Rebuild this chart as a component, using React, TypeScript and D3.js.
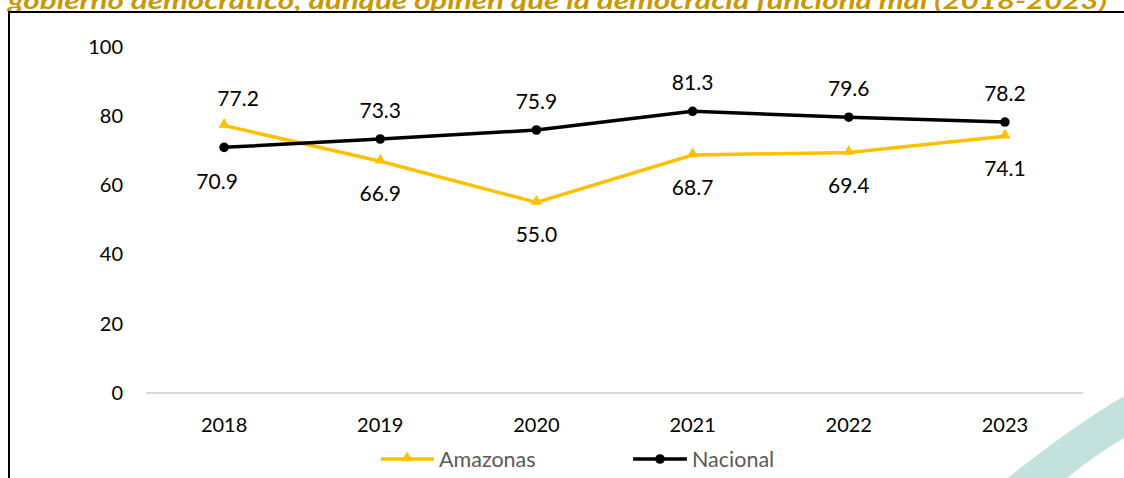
import React from "react";
import * as d3 from "d3";

const years = ["2018", "2019", "2020", "2021", "2022", "2023"];
const amazonas = [77.2, 66.9, 55.0, 68.7, 69.4, 74.1];
const nacional = [70.9, 73.3, 75.9, 81.3, 79.6, 78.2];
const yTicks = [0, 20, 40, 60, 80, 100];
const titleText = "gobierno democrático, aunque opinen que la democracia funciona mal (2018-2023)";

const W = 1124, H = 478;
const FONT = "Lato, 'Open Sans', sans-serif";
const YELLOW = "#FFC000";

export default function App() {
  const x = d3.scaleBand<string>().domain(years).range([146, 1083]);
  const y = d3.scaleLinear().domain([0, 100]).range([393, 46.5]);
  const cx = (yr: string) => (x(yr) as number) + x.bandwidth() / 2;

  const line = d3.line<number>().x((_, i) => cx(years[i])).y((v) => y(v));
  const tri = d3.symbol().type(d3.symbolTriangle).size(55)() as string;

  return (
    <svg width={W} height={H} style={{ position: "absolute", left: 0, top: 0, background: "#fff" }}>
      {/* teal background swoosh */}
      <path d="M1008,478 Q1070,428 1124,396 L1124,438 Q1095,455 1067,478 Z" fill="#C3E2DE" />
      {/* title (cut off at top, as in the source) */}
      <text x={8} y={9} fontFamily={FONT} fontSize={22} fontWeight="bold" fontStyle="italic" fill="#C9970A"
        textLength={1099} lengthAdjust="spacingAndGlyphs">{titleText}</text>
      {/* frame */}
      <path d="M9,478 L9,12 L1124,12" fill="none" stroke="#000" strokeWidth={2} />
      {/* y tick labels */}
      {yTicks.map((t) => (
        <text key={t} x={123} y={y(t)} dy="0.35em" textAnchor="end" fontFamily={FONT} fontSize={20} fill="#000">{t}</text>
      ))}
      {/* baseline */}
      <line x1={146} x2={1083} y1={y(0)} y2={y(0)} stroke="#D9D9D9" strokeWidth={2} />
      {/* x labels */}
      {years.map((yr) => (
        <text key={yr} x={cx(yr)} y={432} textAnchor="middle" fontFamily={FONT} fontSize={20} fill="#000">{yr}</text>
      ))}
      {/* lines */}
      <path d={line(amazonas) as string} fill="none" stroke={YELLOW} strokeWidth={3.5} strokeLinejoin="round" />
      <path d={line(nacional) as string} fill="none" stroke="#000" strokeWidth={3.5} strokeLinejoin="round" />
      {amazonas.map((v, i) => (
        <path key={"a" + i} d={tri} transform={`translate(${cx(years[i])},${y(v) - 1})`} fill={YELLOW} />
      ))}
      {nacional.map((v, i) => (
        <circle key={"n" + i} cx={cx(years[i])} cy={y(v)} r={4.8} fill="#000" />
      ))}
      {/* data labels */}
      {years.map((yr, i) => {
        const aAbove = amazonas[i] > nacional[i];
        const shift = i === 0 ? 1 : 0;
        return (
          <g key={"l" + yr}>
            <text x={cx(yr) + (aAbove ? 14 : 0) * shift} y={aAbove ? y(amazonas[i]) - 20 : y(amazonas[i]) + 40}
              textAnchor="middle" fontFamily={FONT} fontSize={21} fill="#000">{amazonas[i].toFixed(1)}</text>
            <text x={cx(yr) - 7 * shift} y={aAbove ? y(nacional[i]) + 42 : y(nacional[i]) - 21}
              textAnchor="middle" fontFamily={FONT} fontSize={21} fill="#000">{nacional[i].toFixed(1)}</text>
          </g>
        );
      })}
      {/* legend */}
      <g>
        <line x1={381} x2={434} y1={459} y2={459} stroke={YELLOW} strokeWidth={3.5} />
        <path d={tri} transform="translate(407,458)" fill={YELLOW} />
        <text x={439} y={467} fontFamily={FONT} fontSize={21.5} fill="#595959">Amazonas</text>
        <line x1={633} x2={687} y1={459} y2={459} stroke="#000" strokeWidth={3.5} />
        <circle cx={660} cy={459} r={4.8} fill="#000" />
        <text x={692} y={467} fontFamily={FONT} fontSize={21.5} fill="#595959">Nacional</text>
      </g>
    </svg>
  );
}
